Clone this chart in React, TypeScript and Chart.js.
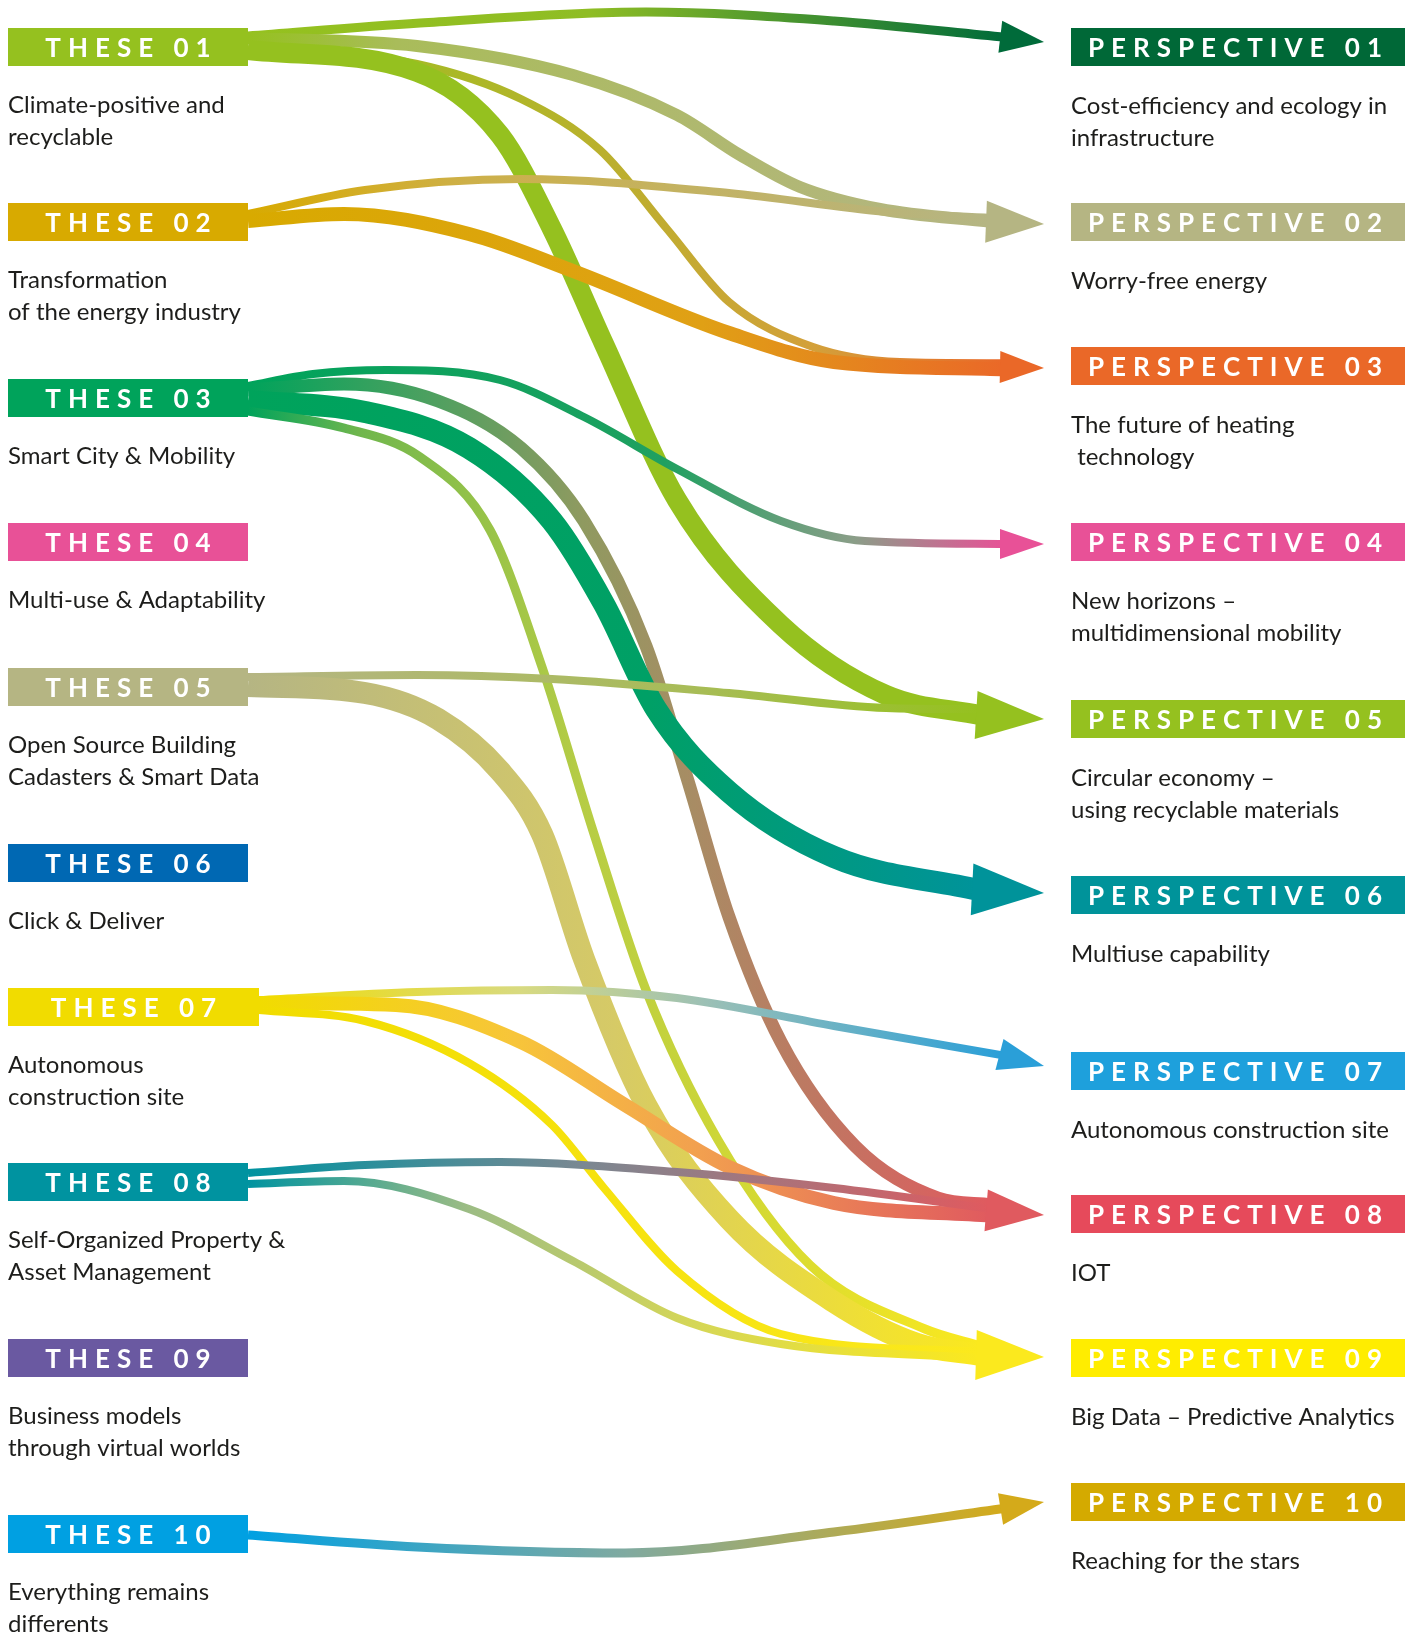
import React, { useEffect, useRef } from 'react';
import { Chart, registerables } from 'chart.js';

Chart.register(...registerables);

const CANVAS_W = 1414;
const CANVAS_H = 1634;

// ---------------- data ----------------
const theseLabels = ['THESE 01', 'THESE 02', 'THESE 03', 'THESE 04', 'THESE 05', 'THESE 06', 'THESE 07', 'THESE 08', 'THESE 09', 'THESE 10'];
const theseDescriptions = [
  ['Climate-positive and', 'recyclable'],
  ['Transformation', 'of the energy industry'],
  ['Smart City & Mobility'],
  ['Multi-use & Adaptability'],
  ['Open Source Building', 'Cadasters & Smart Data'],
  ['Click & Deliver'],
  ['Autonomous', 'construction site'],
  ['Self-Organized Property &', 'Asset Management'],
  ['Business models', 'through virtual worlds'],
  ['Everything remains', 'differents'],
];
const perspectiveLabels = ['PERSPECTIVE 01', 'PERSPECTIVE 02', 'PERSPECTIVE 03', 'PERSPECTIVE 04', 'PERSPECTIVE 05', 'PERSPECTIVE 06', 'PERSPECTIVE 07', 'PERSPECTIVE 08', 'PERSPECTIVE 09', 'PERSPECTIVE 10'];
const perspectiveDescriptions = [
  ['Cost-efficiency and ecology in', 'infrastructure'],
  ['Worry-free energy'],
  ['The future of heating', ' technology'],
  ['New horizons \u2013', 'multidimensional mobility'],
  ['Circular economy \u2013', 'using recyclable materials'],
  ['Multiuse capability'],
  ['Autonomous construction site'],
  ['IOT'],
  ['Big Data \u2013 Predictive Analytics'],
  ['Reaching for the stars'],
];
// flows: source these index -> target perspective index, with ribbon weight
const flowSource = [0, 0, 0, 0, 1, 1, 2, 2, 2, 2, 4, 4, 6, 6, 6, 7, 7, 9];
const flowTarget = [0, 1, 2, 4, 1, 2, 3, 7, 5, 8, 4, 8, 6, 7, 8, 7, 8, 9];
const flowWeight = [9, 12, 8, 20, 8, 14, 8, 13, 22, 9, 8, 22, 8, 14, 8, 8, 8, 9];

// ---------------- styles ----------------
const theseColors = ['#95c11f', '#d8aa00', '#00a35b', '#e85197', '#b5b583', '#0068b3', '#f1dc00', '#0093a0', '#6a59a1', '#00a0e2'];
const perspectiveColors = ['#006837', '#b5b583', '#ea6828', '#e85197', '#95c11f', '#00939a', '#1ea0dc', '#e64a5b', '#ffed00', '#d4aa00'];
const arrowColors = ['#006b3a', '#b5b583', '#ea6828', '#e85197', '#95c11f', '#00939a', '#2a9fd8', '#e05a5f', '#fbe91e', '#d4aa1a'];
// optional intermediate gradient stops per flow [offset, colour]
const flowMidStops: [number, string][][] = [
  [[0.45, '#8fbd24']],
  [[0.2, '#a9bc5a']],
  [[0.4, '#b4b42a'], [0.75, '#d3a03a']],
  [],
  [[0.3, '#cdb04a']],
  [[0.6, '#e0a015']],
  [[0.55, '#1fa060'], [0.8, '#8a9e88']],
  [[0.25, '#4fa060'], [0.45, '#8f9a60'], [0.6, '#a88c64']],
  [[0.55, '#00a066']],
  [[0.15, '#6fb64d'], [0.45, '#b5cc45']],
  [[0.6, '#a8bc58']],
  [[0.5, '#d6ca66']],
  [[0.35, '#d8da80'], [0.6, '#9cc0b5']],
  [[0.35, '#f7c53a'], [0.6, '#f2a04f']],
  [],
  [[0.45, '#7a8892']],
  [[0.3, '#9cbc84'], [0.6, '#d4d658']],
  [[0.5, '#80aaa0']],
];
const TEXT_COLOR = '#1d1d1b';
const TITLE_FONT = 'bold 26px Lato, "Open Sans", sans-serif';
const DESC_FONT = '400 24px Lato, "Open Sans", sans-serif';

// ---------------- layout ----------------
const BOX_H = 38;
const LEFT_X = 8;
const leftBoxRight = [248, 248, 248, 248, 248, 248, 259, 248, 248, 248];
const leftBoxTop = [28, 203, 379, 523, 668, 844, 988, 1163, 1339, 1515];
const RIGHT_X0 = 1071;
const RIGHT_X1 = 1405;
const rightBoxTop = [28, 203, 347, 523, 700, 876, 1052, 1195, 1339, 1483];
const ARROW_TIP_X = 1044;
const arrowTipY = [42, 224, 368, 544, 719, 893, 1066, 1215, 1357, 1502];
const arrowLen = [44, 58, 44, 44, 68, 72, 46, 58, 68, 44];
const arrowHalf = [16, 21, 16, 15, 24, 26, 16, 21, 25, 16];
const arrowSlope = [0.12, 0.04, 0.02, 0, 0.06, 0.05, 0.26, 0.08, 0.03, -0.16];
const DESC_OFFSET = 85;
const DESC_LINE = 32;
const TITLE_SPACING = 7;

const flowStartY = [36, 38, 47, 50, 214, 221, 386, 390, 401, 411, 677, 686, 1000, 1003, 1010, 1173, 1184, 1535];
const flowEndOffset = [0, 0, -4, 0, -4, 2, 0, -6, 0, -9, -6, 0, 0, 5, -3, -2, 3, 0];
const flowVia: number[][][] = [
  [[420, 23], [646, 12], [834, 21]],
  [[417, 46], [573, 75], [677, 115], [740, 155], [800, 187], [880, 209]],
  [[417, 64], [521, 99], [600, 150], [667, 229], [729, 302], [813, 347], [900, 362]],
  [[417, 72], [500, 135], [552, 229], [604, 344], [677, 500], [781, 625], [886, 695]],
  [[365, 190], [521, 179], [729, 193], [886, 212]],
  [[344, 214], [469, 234], [573, 271], [729, 333], [834, 362]],
  [[313, 374], [386, 370], [500, 380], [584, 417], [677, 469], [781, 521], [865, 541]],
  [[344, 384], [438, 401], [521, 448], [584, 521], [646, 646], [688, 781], [729, 917], [781, 1042], [855, 1146], [938, 1198]],
  [[365, 412], [469, 448], [552, 521], [604, 604], [656, 709], [729, 792], [834, 857]],
  [[344, 428], [420, 457], [490, 530], [542, 667], [594, 834], [646, 990], [718, 1140], [810, 1265], [925, 1329]],
  [[417, 675], [552, 679], [729, 693], [886, 708]],
  [[365, 693], [438, 719], [500, 771], [542, 834], [584, 959], [646, 1105], [729, 1219], [834, 1302], [917, 1344]],
  [[417, 992], [552, 990], [677, 998], [834, 1026]],
  [[396, 1005], [521, 1042], [625, 1105], [729, 1167], [834, 1203]],
  [[365, 1021], [469, 1063], [552, 1125], [604, 1188], [677, 1271], [781, 1334]],
  [[365, 1165], [500, 1162], [677, 1172], [834, 1188]],
  [[344, 1181], [469, 1209], [573, 1261], [677, 1318], [781, 1344]],
  [[417, 1547], [625, 1553], [834, 1532]],
];

function drawSpaced(ctx: CanvasRenderingContext2D, text: string, cx: number, y: number, spacing: number) {
  const chars = Array.from(text);
  const widths = chars.map((c) => ctx.measureText(c).width);
  const total = widths.reduce((a, b) => a + b, 0) + spacing * (chars.length - 1);
  let x = cx - total / 2;
  chars.forEach((c, i) => {
    ctx.fillText(c, x, y);
    x += widths[i] + spacing;
  });
}

const decorPlugin = {
  id: 'decor',
  afterDatasetsDraw(chart: any) {
    const ctx: CanvasRenderingContext2D = chart.ctx;
    const xs = chart.scales.x;
    const ys = chart.scales.y;
    const px = (v: number) => xs.getPixelForValue(v);
    const py = (v: number) => ys.getPixelForValue(v);
    ctx.save();

    // arrowheads
    perspectiveLabels.forEach((_, t) => {
      if (!flowTarget.includes(t)) return;
      const slope = arrowSlope[t];
      const norm = Math.sqrt(1 + slope * slope);
      const dx = 1 / norm;
      const dy = slope / norm;
      const tipX = ARROW_TIP_X;
      const tipY = arrowTipY[t];
      const bx = tipX - arrowLen[t] * dx;
      const by = tipY - arrowLen[t] * dy;
      const nx = -dy;
      const ny = dx;
      const h = arrowHalf[t];
      ctx.beginPath();
      ctx.moveTo(px(tipX), py(tipY));
      ctx.lineTo(px(bx + nx * h), py(by + ny * h));
      ctx.lineTo(px(bx - nx * h), py(by - ny * h));
      ctx.closePath();
      ctx.fillStyle = arrowColors[t];
      ctx.fill();
    });

    // left boxes
    theseLabels.forEach((label, i) => {
      const x0 = px(LEFT_X);
      const x1 = px(leftBoxRight[i]);
      const y0 = py(leftBoxTop[i]);
      const y1 = py(leftBoxTop[i] + BOX_H);
      ctx.fillStyle = theseColors[i];
      ctx.fillRect(x0, y0, x1 - x0, y1 - y0);
      ctx.fillStyle = '#ffffff';
      ctx.font = TITLE_FONT;
      ctx.textBaseline = 'alphabetic';
      ctx.textAlign = 'left';
      drawSpaced(ctx, label, (x0 + x1) / 2, (y0 + y1) / 2 + 9.5, TITLE_SPACING);
      ctx.fillStyle = TEXT_COLOR;
      ctx.font = DESC_FONT;
      theseDescriptions[i].forEach((line, k) => {
        ctx.fillText(line, x0, py(leftBoxTop[i] + DESC_OFFSET + k * DESC_LINE));
      });
    });

    // right boxes
    perspectiveLabels.forEach((label, i) => {
      const x0 = px(RIGHT_X0);
      const x1 = px(RIGHT_X1);
      const y0 = py(rightBoxTop[i]);
      const y1 = py(rightBoxTop[i] + BOX_H);
      ctx.fillStyle = perspectiveColors[i];
      ctx.fillRect(x0, y0, x1 - x0, y1 - y0);
      ctx.fillStyle = '#ffffff';
      ctx.font = TITLE_FONT;
      ctx.textBaseline = 'alphabetic';
      ctx.textAlign = 'left';
      drawSpaced(ctx, label, (x0 + x1) / 2 - 3, (y0 + y1) / 2 + 9.5, TITLE_SPACING);
      ctx.fillStyle = TEXT_COLOR;
      ctx.font = DESC_FONT;
      perspectiveDescriptions[i].forEach((line, k) => {
        ctx.fillText(line, x0, py(rightBoxTop[i] + DESC_OFFSET + 1 + k * DESC_LINE));
      });
    });
    ctx.restore();
  },
};

export default function App() {
  const ref = useRef<HTMLCanvasElement>(null);
  useEffect(() => {
    const canvas = ref.current;
    if (!canvas) return;
    const datasets = flowSource.map((src, i) => {
      const tgt = flowTarget[i];
      const sx = leftBoxRight[src];
      const sy = flowStartY[i];
      const slope = arrowSlope[tgt];
      const inset = arrowLen[tgt] - 5;
      const ex = ARROW_TIP_X - inset;
      const ey = arrowTipY[tgt] - slope * inset + flowEndOffset[i];
      const pts = [{ x: sx, y: sy }, ...flowVia[i].map(([x, y]) => ({ x, y })), { x: ex, y: ey }];
      return {
        label: `${theseLabels[src]} \u2192 ${perspectiveLabels[tgt]}`,
        data: pts,
        borderWidth: flowWeight[i],
        borderCapStyle: 'butt' as const,
        borderJoinStyle: 'round' as const,
        cubicInterpolationMode: 'monotone' as const,
        pointRadius: 0,
        fill: false,
        order: flowSource.length - i,
        borderColor: (c: any) => {
          const ch = c.chart;
          if (!ch.chartArea || !ch.scales.x) return theseColors[src];
          const g = ch.ctx.createLinearGradient(ch.scales.x.getPixelForValue(sx), 0, ch.scales.x.getPixelForValue(ex), 0);
          g.addColorStop(0, theseColors[src]);
          flowMidStops[i].forEach(([o, col]) => g.addColorStop(o, col));
          g.addColorStop(1, arrowColors[tgt]);
          return g;
        },
      };
    });
    const chart = new Chart(canvas, {
      type: 'line',
      data: { datasets: datasets as any },
      options: {
        responsive: false,
        animation: false,
        events: [],
        layout: { padding: 0 },
        plugins: { legend: { display: false }, tooltip: { enabled: false } },
        scales: {
          x: { type: 'linear', min: 0, max: CANVAS_W, display: false },
          y: { type: 'linear', min: 0, max: CANVAS_H, reverse: true, display: false },
        },
      },
      plugins: [decorPlugin],
    });
    return () => chart.destroy();
  }, []);
  return (
    <div style={{ position: 'absolute', left: 0, top: 0, width: CANVAS_W, height: CANVAS_H, background: '#ffffff' }}>
      <canvas ref={ref} width={CANVAS_W} height={CANVAS_H} style={{ display: 'block' }} />
    </div>
  );
}
